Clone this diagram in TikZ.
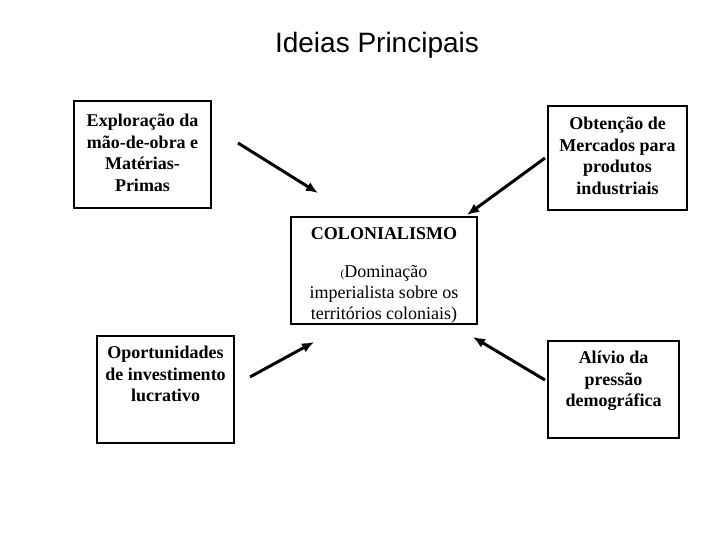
\documentclass[tikz,border=0pt]{standalone}
\usepackage{fontspec}
\setmainfont{Liberation Serif}
\newfontfamily\titlefont{Liberation Sans}
\usetikzlibrary{arrows.meta}
\tikzset{
  box/.style={draw=black, line width=1.1pt, inner sep=0pt},
  boxtext/.style={anchor=north, inner sep=0pt, align=center, font=\fontsize{18}{21.5}\selectfont\bfseries},
  conn/.style={line width=3pt, -{Latex[length=12pt,width=10pt]}}
}
\begin{document}
\begin{tikzpicture}[x=1pt,y=-1pt]
\useasboundingbox (0,0) rectangle (728,546);
\fill[white] (0,0) rectangle (728,546);
% title
\node[inner sep=0pt, font=\titlefont\fontsize{28}{30}\selectfont] (title) at (377,45) {Ideias Principais};
% boxes
\node[box, minimum width=137pt, minimum height=107pt] (b1) at (142.5,154.5) {};
\node[box, minimum width=139pt, minimum height=104pt] (b2) at (617.5,158) {};
\node[box, minimum width=186pt, minimum height=107pt] (bc) at (384,270.5) {};
\node[box, minimum width=137pt, minimum height=107pt] (b3) at (165.5,389.5) {};
\node[box, minimum width=131pt, minimum height=97pt] (b4) at (613.5,389.5) {};
% texts
\node[boxtext] (t1) at (142.5,114) {Exploração da\\mão-de-obra e\\Matérias-\\Primas};
\node[boxtext] (t2) at (617.5,117) {Obtenção de\\Mercados para\\produtos\\industriais};
\node[boxtext] (t3) at (165.5,346) {Oportunidades\\de investimento\\lucrativo};
\node[boxtext] (t4) at (613.5,351) {Alívio da\\pressão\\demográfica};
\node[anchor=north, inner sep=0pt, align=center, font=\fontsize{18}{21}\selectfont] (tc) at (384,227)
  {\textbf{COLONIALISMO}\\[17pt]{\fontsize{11}{12}\selectfont(}Dominação\\imperialista sobre os\\territórios coloniais)};
% connectors
\coordinate (a1s) at (238,143);
\coordinate (a1e) at (318,193);
\coordinate (a2s) at (545,158);
\coordinate (a2e) at (467,215);
\coordinate (a3s) at (250,377);
\coordinate (a3e) at (314,342);
\coordinate (a4s) at (545,380);
\coordinate (a4e) at (473,337);
\draw[conn] (a1s) -- (a1e);
\draw[conn] (a2s) -- (a2e);
\draw[conn] (a3s) -- (a3e);
\draw[conn] (a4s) -- (a4e);
\end{tikzpicture}
\end{document}
